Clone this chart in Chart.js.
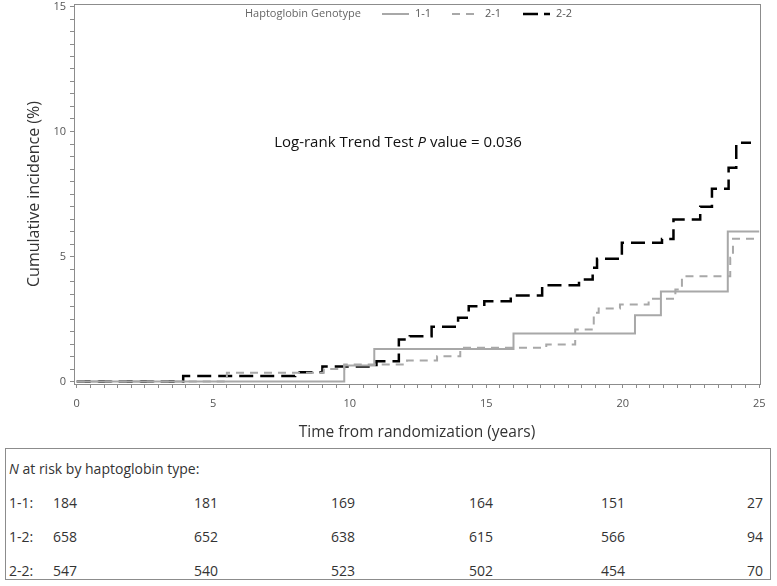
<!DOCTYPE html>
<html>
<head>
<meta charset="utf-8">
<script src="https://cdn.jsdelivr.net/npm/chart.js@4/dist/chart.umd.min.js"></script>
<style>
  html, body { margin: 0; padding: 0; background: #fff; }
  body { width: 777px; height: 586px; position: relative; overflow: hidden; font-family: "Open Sans", sans-serif; }
  #chartWrap { position: absolute; left: 0; top: 0; width: 777px; height: 445px; }
  #riskBox { position: absolute; left: 5px; top: 448px; width: 766px; height: 132px; border: 1px solid #8c8c8c; box-sizing: border-box; color: #333; font-size: 14px; }
  #riskBox .row { position: absolute; left: 0; width: 100%; height: 18px; line-height: 18px; }
  #riskBox .row span { position: absolute; top: 0; }
  #riskBox .num { width: 40px; text-align: center; }
</style>
</head>
<body>
<div id="chartWrap"><canvas id="kmChart" width="777" height="445"></canvas></div>
<div id="riskBox"></div>
<script>
// Kaplan-Meier style cumulative incidence curves
const time11 = [0, 9.8, 10.9, 16.0, 20.45, 21.4, 23.85, 25];
const inc11  = [0, 0.64, 1.3, 1.92, 2.65, 3.6, 6.0, 6.0];

const time21 = [0, 5.5, 9.05, 9.8, 12.1, 13.2, 14.05, 17.2, 18.26, 18.94, 19.12, 19.9, 20.95, 21.93, 22.17, 23.94, 24.04, 25];
const inc21  = [0, 0.35, 0.5, 0.68, 0.84, 1.01, 1.35, 1.48, 2.08, 2.75, 2.92, 3.08, 3.31, 3.68, 4.21, 4.95, 5.71, 5.71];

const time22 = [0, 3.9, 8.0, 9.0, 10.98, 11.8, 12.2, 13.0, 13.97, 14.36, 14.93, 15.9, 17.05, 18.4, 18.9, 19.06, 19.97, 21.44, 21.86, 22.84, 23.27, 23.88, 24.16, 24.7];
const inc22  = [0, 0.22, 0.37, 0.6, 0.81, 1.68, 1.81, 2.19, 2.55, 3.01, 3.21, 3.44, 3.85, 4.08, 4.55, 4.91, 5.55, 5.7, 6.48, 6.99, 7.71, 8.55, 9.55, 9.55];

const seriesLabels = ['1-1', '2-1', '2-2'];

// x and y tick labels
const xTickLabels = [0, 5, 10, 15, 20, 25];
const yTickLabels = [0, 5, 10, 15];

// number at risk table
const riskTimes = [0, 5, 10, 15, 20, 25];
const riskGroups = ['1-1:', '1-2:', '2-2:'];
const risk11 = [184, 181, 169, 164, 151, 27];
const risk12 = [658, 652, 638, 615, 566, 94];
const risk22 = [547, 540, 523, 502, 454, 70];

const grayLine = '#a8a8a8';
const axisGray = '#8c8c8c';
const tickText = '#555555';

function toPoints(t, v) {
    return t.map(function(x, i) { return { x: x, y: v[i] }; });
}

function halfTicks(max) {
    const out = [];
    for (let v = 0; v <= max + 1e-9; v += 0.5) out.push({ value: v });
    return out;
}

// legend + annotation + frame drawn on the canvas
const decorPlugin = {
    id: 'decor',
    afterDraw: function(chart) {
        const ctx = chart.ctx;
        const a = chart.chartArea;
        ctx.save();
        // plot frame
        ctx.strokeStyle = axisGray;
        ctx.lineWidth = 1;
        ctx.strokeRect(a.left + 0.5, a.top + 0.5, a.right - a.left, a.bottom - a.top);

        // legend row
        ctx.font = '11px "Open Sans"';
        ctx.fillStyle = '#666';
        ctx.textBaseline = 'middle';
        ctx.fillText('Haptoglobin Genotype', 245, 14);
        const items = [
            { x: 382, color: grayLine, dash: [], w: 2 },
            { x: 452, color: grayLine, dash: [8, 6], w: 2 },
            { x: 523, color: '#000', dash: [15, 6], w: 2.5 }
        ];
        items.forEach(function(it, i) {
            ctx.beginPath();
            ctx.setLineDash(it.dash);
            ctx.strokeStyle = it.color;
            ctx.lineWidth = it.w;
            ctx.moveTo(it.x, 14);
            ctx.lineTo(it.x + 27, 14);
            ctx.stroke();
            ctx.setLineDash([]);
            ctx.fillStyle = '#555';
            ctx.fillText(seriesLabels[i], it.x + 33, 14);
        });

        // log-rank annotation
        const cx = 398, cy = 143;
        const p1 = 'Log-rank Trend Test ', p2 = 'P', p3 = ' value = 0.036';
        ctx.fillStyle = '#111';
        ctx.font = '15px "Open Sans"';
        const w1 = ctx.measureText(p1).width, w3 = ctx.measureText(p3).width;
        ctx.font = 'italic 15px "Open Sans"';
        const w2 = ctx.measureText(p2).width;
        let x = cx - (w1 + w2 + w3) / 2;
        ctx.font = '15px "Open Sans"';
        ctx.fillText(p1, x, cy); x += w1;
        ctx.font = 'italic 15px "Open Sans"';
        ctx.fillText(p2, x, cy); x += w2;
        ctx.font = '15px "Open Sans"';
        ctx.fillText(p3, x, cy);
        ctx.restore();
    }
};

const ctx = document.getElementById('kmChart').getContext('2d');
const chart = new Chart(ctx, {
    type: 'line',
    data: {
        datasets: [
            {
                label: seriesLabels[0],
                data: toPoints(time11, inc11),
                borderColor: grayLine,
                borderWidth: 2,
                stepped: 'before',
                pointRadius: 0
            },
            {
                label: seriesLabels[1],
                data: toPoints(time21, inc21),
                borderColor: grayLine,
                borderWidth: 2,
                borderDash: [8, 6],
                stepped: 'before',
                pointRadius: 0
            },
            {
                label: seriesLabels[2],
                data: toPoints(time22, inc22),
                borderColor: '#000000',
                borderWidth: 2.5,
                borderDash: [14, 7],
                stepped: 'before',
                pointRadius: 0
            }
        ]
    },
    options: {
        responsive: false,
        animation: false,
        layout: { padding: { left: 0, right: 17, top: 4, bottom: 0 } },
        plugins: {
            legend: { display: false },
            tooltip: { enabled: false }
        },
        scales: {
            x: {
                type: 'linear',
                min: -0.1,
                max: 25.03,
                afterBuildTicks: function(scale) { scale.ticks = halfTicks(25); },
                afterFit: function(scale) {
                    scale.height = 61;
                    scale.paddingLeft = 0;
                    scale.paddingRight = 0;
                },
                border: { display: false },
                grid: { drawOnChartArea: false, drawTicks: true, tickLength: 4, color: axisGray },
                ticks: {
                    autoSkip: false,
                    maxRotation: 0,
                    padding: 9,
                    color: tickText,
                    font: { family: 'Open Sans', size: 11 },
                    callback: function(v) { return xTickLabels.indexOf(v) >= 0 ? String(v) : ''; }
                },
                title: {
                    display: true,
                    text: 'Time from randomization (years)',
                    color: '#333',
                    font: { family: 'Open Sans', size: 15.5 },
                    padding: { top: 0, bottom: 3 }
                }
            },
            y: {
                type: 'linear',
                min: -0.1,
                max: 15.1,
                afterBuildTicks: function(scale) { scale.ticks = halfTicks(15); },
                afterFit: function(scale) {
                    scale.width = 74;
                    scale.paddingTop = 0;
                    scale.paddingBottom = 0;
                },
                border: { display: false },
                grid: { drawOnChartArea: false, drawTicks: true, tickLength: 4, color: axisGray },
                ticks: {
                    autoSkip: false,
                    padding: 4,
                    color: tickText,
                    font: { family: 'Open Sans', size: 11 },
                    callback: function(v) { return yTickLabels.indexOf(v) >= 0 ? String(v) : ''; }
                },
                title: {
                    display: true,
                    text: 'Cumulative incidence (%)',
                    color: '#333',
                    font: { family: 'Open Sans', size: 16 },
                    padding: { top: 25, bottom: 0 }
                }
            }
        }
    },
    plugins: [decorPlugin]
});

// number-at-risk table under the plot
const box = document.getElementById('riskBox');
const numCenters = [59, 200, 337, 475, 607, 749];
const rowTops = [11, 45, 79, 113];

const header = document.createElement('div');
header.className = 'row';
header.style.top = rowTops[0] + 'px';
header.innerHTML = '<span style="left:3px"><i>N</i> at risk by haptoglobin type:</span>';
box.appendChild(header);

[risk11, risk12, risk22].forEach(function(vals, r) {
    const row = document.createElement('div');
    row.className = 'row';
    row.style.top = rowTops[r + 1] + 'px';
    let html = '<span style="left:3px">' + riskGroups[r] + '</span>';
    vals.forEach(function(v, i) {
        html += '<span class="num" style="left:' + (numCenters[i] - 20) + 'px">' + v + '</span>';
    });
    row.innerHTML = html;
    box.appendChild(row);
});
</script>
</body>
</html>
